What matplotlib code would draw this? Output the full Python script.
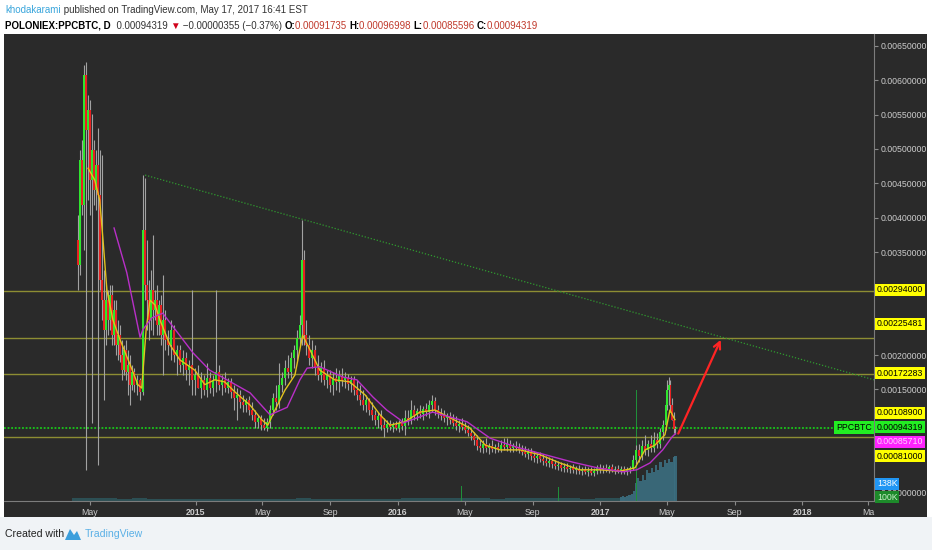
import numpy as np
import matplotlib.pyplot as plt
from matplotlib.patches import Rectangle, Polygon

plt.rcParams['font.family'] = ['Liberation Sans', 'DejaVu Sans']

# --- daily candles, x = days since 2015-01-01, prices in mBTC
cdl_day = [-213, -210, -206, -202, -199, -195, -192, -188, -184, -181, -177, -174, -170, -166, -163,
           -159, -155, -152, -148, -145, -141, -137, -134, -130, -127, -123, -119, -116, -112, -107,
           -101, -96, -92, -89, -85, -81, -78, -74, -71, -67, -63, -60, -56, -51, -45, -40, -34, -29,
           -24, -18, -13, -7, -2, 4,
           9, 14, 20, 25, 31, 36, 42, 47, 52, 58, 63, 69, 74, 80, 85, 90, 96, 101, 107, 112, 118, 123,
           128, 134, 139, 145, 150, 155, 161, 166, 172, 177, 183, 188, 192, 195, 199, 204, 210, 215,
           221, 226, 231, 237, 242, 248, 253, 259, 264, 269, 275, 280, 286, 291, 297, 302, 307, 313,
           318, 324, 329, 334, 340, 345, 351, 356, 362, 367,
           372, 378, 383, 389, 394, 400, 405, 410, 416, 421, 427, 432, 438, 443, 448, 454, 459, 465,
           470, 476, 481, 486, 492, 497, 503, 508, 513, 519, 524, 530, 535, 541, 546, 551, 557, 562,
           568, 573, 579, 584, 589, 595, 600, 606, 611, 617, 622, 627, 633, 638, 644, 649, 654, 660,
           665, 671, 676, 682, 687, 692, 698, 703, 709, 714, 720, 725, 730, 736, 741, 747, 752, 757,
           763, 768, 774, 779, 785, 790, 796, 801, 806, 812, 817, 823, 828, 833, 839, 844, 850,
           852, 855, 858, 861, 864, 867]
cdl_open = [3.68, 3.31, 4.84, 4.18, 6.08, 5.28, 5.57, 4.55, 4.99, 4.40, 4.77, 4.33, 3.09, 2.80, 2.37,
            2.80, 2.51, 2.88, 2.29, 2.66, 2.15, 2.29, 2.00, 1.78, 2.08, 1.75, 1.86, 1.57, 1.75, 1.57,
            1.64, 1.46, 3.82, 3.02, 2.80, 2.51, 2.95, 2.66, 2.80, 2.44, 2.73, 2.29, 2.51, 2.22, 2.15,
            2.37, 2.00, 2.08, 1.86, 1.96, 1.78, 1.86, 1.64, 1.71,
            1.52, 1.64, 1.49, 1.67, 1.52, 1.64, 1.75, 1.57, 1.64, 1.52, 1.61, 1.46, 1.38, 1.42, 1.32,
            1.27, 1.35, 1.20, 1.13, 1.03, 1.09, 0.98, 0.94, 1.03, 1.20, 1.38, 1.32, 1.57, 1.67, 1.81,
            1.75, 1.96, 2.08, 2.25, 2.44, 3.38, 2.29, 2.15, 1.96, 2.08, 1.81, 1.71, 1.81, 1.64, 1.71,
            1.57, 1.67, 1.61, 1.70, 1.64, 1.67, 1.58, 1.64, 1.49, 1.42, 1.35, 1.27, 1.35, 1.20, 1.13,
            1.06, 1.11, 0.98, 0.94, 1.00, 0.95, 0.98, 0.94,
            1.01, 0.97, 1.09, 1.06, 1.20, 1.13, 1.19, 1.14, 1.22, 1.17, 1.27, 1.33, 1.20, 1.16, 1.11,
            1.09, 1.11, 1.06, 1.01, 0.97, 1.00, 0.95, 0.91, 0.87, 0.82, 0.76, 0.68, 0.65, 0.71, 0.65,
            0.68, 0.63, 0.66, 0.63, 0.69, 0.66, 0.71, 0.65, 0.68, 0.65, 0.62, 0.59, 0.56, 0.59, 0.53,
            0.50, 0.53, 0.49, 0.46, 0.43, 0.46, 0.41, 0.39, 0.40, 0.36, 0.37, 0.34, 0.36, 0.33, 0.34,
            0.31, 0.33, 0.30, 0.31, 0.29, 0.31, 0.36, 0.33, 0.36, 0.34, 0.37, 0.33, 0.34, 0.31, 0.34,
            0.31, 0.33, 0.36, 0.47, 0.62, 0.53, 0.68, 0.62, 0.71, 0.65, 0.76, 0.71, 0.88, 0.98, 1.27,
            1.49, 1.57, 1.27, 1.06, 0.917]
cdl_high = [4.04, 4.99, 5.13, 6.22, 6.27, 5.79, 5.71, 5.51, 5.13, 4.99, 5.30, 4.99, 4.91, 3.24, 3.02,
            2.95, 3.02, 3.02, 2.80, 2.80, 2.51, 2.44, 2.22, 2.15, 2.22, 2.08, 2.00, 1.86, 1.81, 1.71,
            1.67, 4.62, 4.58, 3.68, 3.09, 3.24, 3.75, 2.95, 3.02, 2.80, 2.88, 3.17, 2.66, 2.37, 2.51,
            2.44, 2.15, 2.15, 2.08, 2.05, 1.93, 2.95, 1.81, 1.86,
            1.75, 1.71, 1.89, 1.75, 1.71, 2.95, 1.86, 1.71, 1.75, 1.67, 1.67, 1.57, 1.52, 1.49, 1.42,
            1.38, 1.41, 1.32, 1.20, 1.13, 1.13, 1.09, 1.09, 1.27, 1.45, 1.57, 1.89, 1.75, 1.93, 2.00,
            2.05, 2.15, 2.37, 2.58, 3.97, 3.53, 2.51, 2.29, 2.22, 2.15, 2.00, 1.90, 1.93, 1.78, 1.78,
            1.75, 1.81, 1.78, 1.81, 1.75, 1.73, 1.70, 1.70, 1.64, 1.57, 1.49, 1.42, 1.38, 1.32, 1.20,
            1.17, 1.20, 1.09, 1.06, 1.06, 1.03, 1.04, 1.06,
            1.09, 1.20, 1.20, 1.35, 1.27, 1.23, 1.27, 1.26, 1.30, 1.35, 1.42, 1.39, 1.27, 1.23, 1.20,
            1.16, 1.17, 1.14, 1.11, 1.06, 1.09, 1.03, 0.98, 0.94, 0.88, 0.84, 0.76, 0.76, 0.79, 0.72,
            0.76, 0.70, 0.74, 0.76, 0.79, 0.79, 0.76, 0.72, 0.75, 0.72, 0.69, 0.68, 0.65, 0.65, 0.60,
            0.58, 0.59, 0.56, 0.53, 0.52, 0.50, 0.47, 0.46, 0.44, 0.43, 0.43, 0.40, 0.42, 0.39, 0.40,
            0.37, 0.39, 0.37, 0.37, 0.36, 0.40, 0.42, 0.40, 0.42, 0.40, 0.42, 0.39, 0.40, 0.39, 0.39,
            0.37, 0.39, 0.55, 0.69, 0.71, 0.76, 0.84, 0.76, 0.84, 0.88, 0.87, 0.94, 1.06, 1.35, 1.64,
            1.68, 1.64, 1.38, 1.17, 0.970]
cdl_low = [2.95, 3.17, 4.04, 3.53, 0.33, 4.26, 4.04, 1.01, 4.18, 4.11, 0.40, 2.95, 2.51, 1.35, 2.15,
           2.29, 2.37, 2.15, 2.15, 2.00, 1.93, 1.90, 1.64, 1.71, 1.64, 1.42, 1.27, 1.49, 1.46, 1.42,
           1.35, 1.42, 2.80, 2.37, 2.22, 2.37, 2.29, 2.51, 2.29, 2.29, 2.15, 1.71, 2.08, 2.00, 1.93,
           1.90, 1.71, 1.75, 1.71, 1.64, 1.57, 1.42, 1.42, 1.52,
           1.38, 1.42, 1.39, 1.45, 1.41, 1.46, 1.49, 1.42, 1.46, 1.45, 1.38, 1.20, 1.06, 1.23, 1.17,
           1.17, 1.13, 1.06, 0.94, 0.94, 0.91, 0.91, 0.90, 0.94, 1.13, 1.20, 1.23, 1.46, 1.57, 1.67,
           1.67, 1.81, 1.93, 2.15, 2.15, 2.15, 2.00, 1.86, 1.81, 1.71, 1.64, 1.61, 1.57, 1.52, 1.46,
           1.42, 1.49, 1.46, 1.55, 1.52, 1.49, 1.46, 1.42, 1.35, 1.27, 1.20, 1.17, 1.13, 1.06, 0.98,
           0.94, 0.91, 0.81, 0.88, 0.91, 0.88, 0.91, 0.88,
           0.91, 0.84, 0.98, 1.00, 1.06, 1.06, 1.09, 1.06, 1.11, 1.09, 1.17, 1.13, 1.09, 1.06, 1.03,
           0.98, 1.00, 0.97, 0.91, 0.88, 0.91, 0.87, 0.82, 0.76, 0.69, 0.62, 0.59, 0.58, 0.59, 0.56,
           0.59, 0.58, 0.59, 0.59, 0.62, 0.60, 0.59, 0.59, 0.60, 0.58, 0.55, 0.52, 0.49, 0.48, 0.44,
           0.43, 0.44, 0.40, 0.39, 0.37, 0.36, 0.34, 0.33, 0.31, 0.30, 0.30, 0.28, 0.28, 0.27, 0.27,
           0.26, 0.27, 0.24, 0.26, 0.24, 0.27, 0.28, 0.28, 0.30, 0.28, 0.30, 0.27, 0.28, 0.27, 0.27,
           0.26, 0.28, 0.33, 0.41, 0.44, 0.47, 0.55, 0.53, 0.59, 0.59, 0.65, 0.65, 0.76, 0.91, 1.20,
           1.27, 1.17, 1.06, 0.87, 0.856]
cdl_close = [3.31, 4.84, 4.18, 6.08, 5.28, 5.57, 4.55, 4.99, 4.40, 4.77, 4.33, 3.09, 2.80, 2.37, 2.80,
             2.51, 2.88, 2.29, 2.66, 2.15, 2.29, 2.00, 1.78, 2.08, 1.75, 1.86, 1.57, 1.75, 1.57, 1.64,
             1.46, 3.82, 3.02, 2.80, 2.51, 2.95, 2.66, 2.80, 2.44, 2.73, 2.29, 2.51, 2.22, 2.15, 2.37,
             2.00, 2.08, 1.86, 1.96, 1.78, 1.86, 1.64, 1.71, 1.52,
             1.64, 1.49, 1.67, 1.52, 1.64, 1.75, 1.57, 1.64, 1.52, 1.61, 1.46, 1.38, 1.42, 1.32, 1.27,
             1.35, 1.20, 1.13, 1.03, 1.09, 0.98, 0.94, 1.03, 1.20, 1.38, 1.32, 1.57, 1.67, 1.81, 1.75,
             1.96, 2.08, 2.25, 2.44, 3.38, 2.29, 2.15, 1.96, 2.08, 1.81, 1.71, 1.81, 1.64, 1.71, 1.57,
             1.67, 1.61, 1.70, 1.64, 1.67, 1.58, 1.64, 1.49, 1.42, 1.35, 1.27, 1.35, 1.20, 1.13, 1.06,
             1.11, 0.98, 0.94, 1.00, 0.95, 0.98, 0.94, 1.01,
             0.97, 1.09, 1.06, 1.20, 1.13, 1.19, 1.14, 1.22, 1.17, 1.27, 1.33, 1.20, 1.16, 1.11, 1.09,
             1.11, 1.06, 1.01, 0.97, 1.00, 0.95, 0.91, 0.87, 0.82, 0.76, 0.68, 0.65, 0.71, 0.65, 0.68,
             0.63, 0.66, 0.63, 0.69, 0.66, 0.71, 0.65, 0.68, 0.65, 0.62, 0.59, 0.56, 0.59, 0.53, 0.50,
             0.53, 0.49, 0.46, 0.43, 0.46, 0.41, 0.39, 0.40, 0.36, 0.37, 0.34, 0.36, 0.33, 0.34, 0.31,
             0.33, 0.30, 0.31, 0.29, 0.31, 0.36, 0.33, 0.36, 0.34, 0.37, 0.33, 0.34, 0.31, 0.34, 0.31,
             0.33, 0.36, 0.47, 0.62, 0.53, 0.68, 0.62, 0.71, 0.65, 0.76, 0.71, 0.88, 0.98, 1.27, 1.49,
             1.57, 1.27, 1.06, 0.92, 0.943]

# short moving average (yellow)
ma_fast_day = [-195, -183, -174, -168, -161, -150, -137, -119, -105, -98, -90, -83, -74, -65, -47, -29,
               -2, 16, 34, 52, 71, 98, 119, 130, 143, 161, 179, 193, 206, 224, 251, 278, 306, 333, 351,
               378, 405, 432, 459, 495, 523, 550, 586, 622, 658, 694, 730, 767, 794, 812, 830, 848, 857, 866]
ma_fast_val = [4.72, 4.55, 4.26, 3.68, 2.95, 2.51, 2.22, 1.86, 1.57, 1.52, 2.37, 2.80, 2.73, 2.51, 2.15,
               1.93, 1.78, 1.57, 1.64, 1.61, 1.46, 1.27, 1.06, 0.98, 1.20, 1.49, 1.71, 2.29, 2.08, 1.78,
               1.64, 1.61, 1.42, 1.13, 0.98, 1.03, 1.17, 1.20, 1.09, 0.94, 0.69, 0.62, 0.62, 0.55, 0.43,
               0.33, 0.33, 0.31, 0.36, 0.62, 0.69, 0.84, 1.20, 1.06]
# long moving average (magenta)
ma_slow_day = [-148, -125, -101, -96, -80, -60, -5, 25, 56, 98, 134, 165, 188, 201, 224, 266, 291, 320,
               345, 369, 374, 428, 490, 532, 580, 622, 682, 725, 772, 797, 821, 844, 861, 867]
ma_slow_val = [3.85, 3.20, 2.26, 2.37, 2.54, 2.61, 2.03, 1.78, 1.64, 1.45, 1.13, 1.24, 1.64, 1.81, 1.83,
               1.68, 1.64, 1.39, 1.20, 1.06, 1.01, 1.17, 1.03, 0.79, 0.66, 0.57, 0.44, 0.36, 0.30, 0.33,
               0.43, 0.62, 0.81, 0.857]

# volume (thousands)
vol_band_day = [-210, -183, -156, -129, -102, -75, -48, -21, 6, 33, 60, 87, 114, 141, 168, 195, 222, 249,
                276, 303, 330, 357, 384, 411, 438, 465, 492, 519, 546, 573, 600, 627, 654, 681, 708, 735,
                762]
vol_band_k = [10, 9, 8, 7, 8, 6, 5, 6, 5, 5, 5, 6, 5, 7, 6, 8, 7, 6, 5, 6, 5, 7, 8, 9, 8, 10, 9, 8,
              7, 8, 9, 9, 8, 8, 7, 8, 9]
vol_spike_day = [480, 530, 606, 655, 797, 852]
vol_spike_k = [45, 38, 42, 44, 340, 345]
vol_2017_day = [768, 772, 776, 780, 784, 788, 792, 796, 800, 804, 808, 812, 816, 820, 824, 828, 832, 836,
                840, 844, 848, 852, 856, 860, 864, 867]
vol_2017_k = [12, 14, 13, 16, 18, 22, 30, 55, 70, 60, 80, 65, 95, 85, 100, 90, 110, 95, 120, 105, 125,
              118, 130, 120, 135, 138]

levels = [0.00294, 0.00225481, 0.00172283, 0.00081]
last_price = 0.00094319
trend_day = [-92, 1226]
trend_val = [4.62, 1.64]
arrow_day = [870, 951]
arrow_val = [0.82, 2.26]

xtick_day = [-192, 0, 120, 243, 365, 486, 609, 731, 851, 974, 1096, 1216]
xtick_lbl = ['May', '2015', 'May', 'Sep', '2016', 'May', 'Sep', '2017', 'May', 'Sep', '2018', 'Ma']

ytick_val = [0.0, 0.0005, 0.001, 0.0015, 0.002, 0.0025, 0.003, 0.0035, 0.004, 0.0045, 0.005, 0.0055,
             0.006, 0.0065]
# scale labels that the coloured boxes cover are left blank
ytick_lbl = ['0.00000000', '', '', '0.00150000', '0.00200000', '', '', '0.00350000', '0.00400000',
             '0.00450000', '0.00500000', '0.00550000', '0.00600000', '0.00650000']

# right-hand price labels: text, position on scale, box colour, text colour
side_lbl = [('0.00294000', 0.002948, '#ffff00', 'black'),
            ('0.00225481', 0.002453, '#ffff00', 'black'),
            ('0.00172283', 0.001739, '#ffff00', 'black'),
            ('0.00108900', 0.001157, '#ffff00', 'black'),
            ('0.00094319', 0.000953, '#22ee22', 'black'),
            ('0.00085710', 0.000735, '#ff22ff', '#ffd0ff'),
            ('0.00081000', 0.000531, '#ffff00', 'black'),
            ('100K', -0.000068, '#1d8a2a', '#c8f0c8'),
            ('138K', 0.000124, '#2196f3', 'white')]

W, H = 932, 550
fig = plt.figure(figsize=(W / 100, H / 100), dpi=100)
fig.patch.set_facecolor('white')
fig.patches.append(Rectangle((0, 0), 1, 1 - 517 / H, transform=fig.transFigure,
                             fc='#f0f3f6', ec='none', zorder=-2))
fig.patches.append(Rectangle((4 / W, 1 - 517 / H), (927 - 4) / W, (517 - 34) / H,
                             transform=fig.transFigure, fc='#2a2a2a', ec='none', zorder=-1))

rect = [4 / W, 1 - 501 / H, 870 / W, (501 - 34) / H]
ax = fig.add_axes(rect)
axv = ax.twinx()
ax.set_zorder(axv.get_zorder() + 1)
ax.patch.set_visible(False)
axv.patch.set_visible(False)

# volume
axv.bar(vol_band_day, vol_band_k, width=27, color='#2d5f66', alpha=0.7, linewidth=0)
axv.bar(vol_2017_day, vol_2017_k, width=4, color='#3b6e80', alpha=0.9, linewidth=0)
axv.bar(vol_spike_day, vol_spike_k, width=1.2, color='#1f8f3a', linewidth=0)
axv.set_ylim(0, 1435)
axv.set_yticks([])
for s in axv.spines.values():
    s.set_visible(False)

d = np.array(cdl_day)
o = np.array(cdl_open) * 1e-3
h = np.array(cdl_high) * 1e-3
lo = np.array(cdl_low) * 1e-3
c = np.array(cdl_close) * 1e-3
up = c >= o
ax.vlines(d, lo, h, color='#a2a2a2', linewidth=0.8, zorder=2)
ax.bar(d, np.abs(c - o), bottom=np.minimum(o, c), width=3.2,
       color=np.where(up, '#2ee62e', '#e62222'), linewidth=0, zorder=3)

ax.plot(ma_fast_day, np.array(ma_fast_val) * 1e-3, color='#e2c21e', lw=1.0, zorder=4)
ax.plot(ma_slow_day, np.array(ma_slow_val) * 1e-3, color='#b92fc8', lw=1.0, zorder=4)

for lv in levels:
    ax.axhline(lv, color='#8d8d33', lw=1.0, zorder=1)
ax.axhline(last_price, color='#19c819', lw=1.3, ls=(0, (1, 1)), zorder=1)
ax.plot(trend_day, np.array(trend_val) * 1e-3, color='#2f9a2f', lw=0.9, ls=(0, (1, 1.5)), zorder=1)
ax.annotate('', xy=(arrow_day[1], arrow_val[1] * 1e-3), xytext=(arrow_day[0], arrow_val[0] * 1e-3),
            arrowprops=dict(arrowstyle='->', color='#ff2424', lw=1.6, mutation_scale=12), zorder=5)

ax.set_xlim(-347, 1226)
ax.set_ylim(-0.000124, 0.006674)

ax.yaxis.tick_right()
ax.set_yticks(ytick_val)
ax.set_yticklabels(ytick_lbl)
ax.set_xticks(xtick_day)
ax.set_xticklabels(xtick_lbl)
for t in ax.get_xticklabels():
    if t.get_text().isdigit():
        t.set_fontweight('bold')
ax.tick_params(axis='both', colors='#8a8a8a', labelcolor='#cccccc', labelsize=6.3, length=3, width=0.8)
ax.tick_params(axis='y', pad=2)
ax.tick_params(axis='x', pad=2)
for k in ['top', 'left']:
    ax.spines[k].set_visible(False)
for k in ['right', 'bottom']:
    ax.spines[k].set_color('#7c7c7c')

for txt, yv, fc, tc in side_lbl:
    ax.annotate(txt, xy=(1, yv), xycoords=('axes fraction', 'data'), xytext=(2.2, 0),
                textcoords='offset points', ha='left', va='center', fontsize=6.3, color=tc,
                bbox=dict(boxstyle='square,pad=0.2', fc=fc, ec='none'), zorder=10,
                annotation_clip=False)
ax.annotate('PPCBTC', xy=(1, last_price), xycoords=('axes fraction', 'data'), xytext=(-1.5, 0),
            textcoords='offset points', ha='right', va='center', fontsize=6.3, color='black',
            bbox=dict(boxstyle='square,pad=0.2', fc='#22ee22', ec='none'), zorder=10,
            annotation_clip=False)

# header and footer text, laid out left to right
renderer = fig.canvas.get_renderer()


def run(x_px, y_px, parts, size=7.0):
    x = x_px / W
    for s, col, wt in parts:
        t = fig.text(x, 1 - y_px / H, s, color=col, fontsize=size, fontweight=wt, va='center')
        x += t.get_window_extent(renderer).width / W
    return x


run(5, 10, [('khodakarami', '#3aa6dc', 'normal'),
            (' published on TradingView.com, May 17, 2017 16:41 EST', '#333333', 'normal')])
run(5, 26, [('POLONIEX:PPCBTC, D', 'black', 'bold'),
            ('  0.00094319 ', '#333333', 'normal'),
            ('\u25bc', '#d0021b', 'normal'),
            (' \u22120.00000355 (\u22120.37%) ', '#333333', 'normal'),
            ('O:', 'black', 'bold'), ('0.00091735 ', '#c0392b', 'normal'),
            ('H:', 'black', 'bold'), ('0.00096998 ', '#c0392b', 'normal'),
            ('L:', 'black', 'bold'), ('0.00085596 ', '#c0392b', 'normal'),
            ('C:', 'black', 'bold'), ('0.00094319', '#c0392b', 'normal')])

run(5, 534, [('Created with', '#222222', 'normal')], size=7.6)
logo = [(65, 540), (70, 529), (74, 535), (77, 531), (81, 540)]
fig.patches.append(Polygon([(x / W, 1 - y / H) for x, y in logo], closed=True,
                           transform=fig.transFigure, fc='#3d9fdc', ec='none'))
run(85, 534, [('TradingView', '#5bb0e6', 'normal')], size=7.6)

fig.savefig('out.png', dpi=100, facecolor=fig.get_facecolor())
